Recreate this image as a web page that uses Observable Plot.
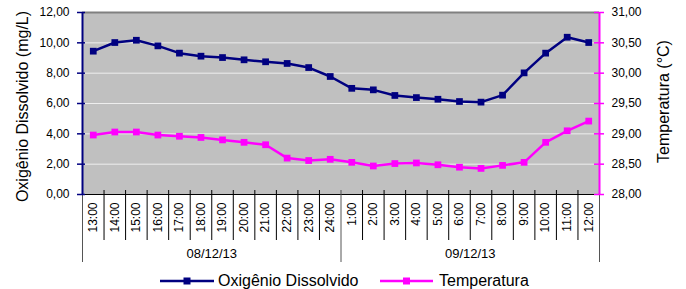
<!DOCTYPE html>
<html><head><meta charset="utf-8">
<script src="https://cdn.jsdelivr.net/npm/d3@7"></script>
<script src="https://cdn.jsdelivr.net/npm/@observablehq/plot@0.6"></script>
<style>
body{margin:0;background:#fff;font-family:"Liberation Sans",Arial,sans-serif;}
#legend{position:relative;height:17px;width:686px;font-size:16px;color:#000;}
.item{position:absolute;top:0;height:17px;display:flex;align-items:center;white-space:nowrap;}
.item svg{display:block;}
</style></head><body><div id="chart"></div><div id="legend"></div>
<script>
const hours = ["13:00","14:00","15:00","16:00","17:00","18:00","19:00","20:00","21:00","22:00","23:00","24:00",
               "1:00","2:00","3:00","4:00","5:00","6:00","7:00","8:00","9:00","10:00","11:00","12:00"];
const dates = ["08/12/13","09/12/13"];
const oxygen = [9.45,10.02,10.17,9.80,9.32,9.12,9.03,8.88,8.75,8.64,8.37,7.78,
                7.00,6.90,6.53,6.39,6.28,6.13,6.09,6.55,8.02,9.32,10.37,10.02];
const temperature = [28.98,29.03,29.03,28.98,28.96,28.94,28.90,28.86,28.82,28.60,28.56,28.58,
                     28.53,28.47,28.51,28.52,28.49,28.45,28.43,28.48,28.53,28.86,29.05,29.21];
const leftTicks = [0,2,4,6,8,10,12];
const rightTicks = [28,28.5,29,29.5,30,30.5,31];
const gridLines = [2,4,6,8,10];
const leftTitle = "Oxigênio Dissolvido (mg/L)";
const rightTitle = "Temperatura (°C)";
const seriesNames = ["Oxigênio Dissolvido","Temperatura"];
const colors = ["#000080","#ff00ff"];

// temperature (28..31) mapped onto the left y domain (0..12)
const tMin = 28, tMax = 31, yMax = 12;
const tToY = t => (t - tMin) * yMax / (tMax - tMin);
const fmt = v => v.toFixed(2).replace(".", ",");

const idx = hours.map((h, i) => i);
const boundaries = d3.range(hours.length + 1).map(i => i - 0.5);
const groupSize = hours.length / dates.length;
const groupBounds = d3.range(dates.length + 1).map(g => g * groupSize - 0.5);
const hourBounds = boundaries.filter(b => !groupBounds.includes(b));
const oxData = idx.map(i => ({i, v: oxygen[i]}));
const tData = idx.map(i => ({i, v: tToY(temperature[i])}));

const chart = Plot.plot({
  width: 686, height: 272,
  marginLeft: 82, marginRight: 87, marginTop: 12, marginBottom: 78,
  style: {fontFamily: "'Liberation Sans', Arial, sans-serif", color: "#000", background: "#fff"},
  x: {domain: [-0.5, hours.length - 0.5], axis: null},
  y: {domain: [0, yMax], axis: null},
  marks: [
    Plot.frame({fill: "#c0c0c0", stroke: null}),
    Plot.ruleY(gridLines, {stroke: "#eeeeee", strokeWidth: 1}),
    Plot.ruleY([yMax], {stroke: "#808080", strokeWidth: 2}),
    // x axis line and category separators
    Plot.ruleY([0], {stroke: "#000", strokeWidth: 1}),
    Plot.ruleX(hourBounds, {y1: 0, y2: 0, insetTop: -4, insetBottom: -46, stroke: "#000", strokeWidth: 1}),
    Plot.ruleX(groupBounds, {y1: 0, y2: 0, insetTop: -4, insetBottom: -68, stroke: "#555", strokeWidth: 1}),
    // left axis
    Plot.ruleX([-0.5], {y1: 0, y2: yMax, stroke: colors[0], strokeWidth: 2}),
    Plot.ruleY(leftTicks, {x1: -0.5, x2: -0.5, insetLeft: -5, insetRight: -3, stroke: colors[0], strokeWidth: 1.5}),
    Plot.text(leftTicks, {x: -0.5, y: d => d, text: fmt, textAnchor: "end", dx: -13, fontSize: 12, fill: "#000"}),
    // right axis
    Plot.ruleX([hours.length - 0.5], {y1: 0, y2: yMax, stroke: colors[1], strokeWidth: 2}),
    Plot.ruleY(rightTicks, {x1: hours.length - 0.5, x2: hours.length - 0.5, y: tToY, insetLeft: -5, insetRight: -5, stroke: colors[1], strokeWidth: 1.5}),
    Plot.text(rightTicks, {x: hours.length - 0.5, y: tToY, text: fmt, textAnchor: "start", dx: 12, fontSize: 12, fill: "#000"}),
    // axis titles
    Plot.text([leftTitle], {frameAnchor: "left", textAnchor: "middle", dx: -60, dy: 3, rotate: -90, fontSize: 16, fill: "#000"}),
    Plot.text([rightTitle], {frameAnchor: "right", textAnchor: "middle", dx: 64, dy: -2, rotate: -90, fontSize: 16, fill: "#000"}),
    // category labels
    Plot.text(hours, {x: (d, i) => i, y: 0, rotate: -90, textAnchor: "end", lineAnchor: "middle", dy: 8, fontSize: 12, fill: "#000"}),
    Plot.text(dates, {x: (d, g) => g * groupSize + (groupSize - 1) / 2, y: 0, dy: 59, fontSize: 13, fill: "#000"}),
    // series
    Plot.line(oxData, {x: "i", y: "v", stroke: colors[0], strokeWidth: 2.5}),
    Plot.dot(oxData, {x: "i", y: "v", symbol: "square", r: 3.8, fill: colors[0], stroke: null}),
    Plot.line(tData, {x: "i", y: "v", stroke: colors[1], strokeWidth: 2.5}),
    Plot.dot(tData, {x: "i", y: "v", symbol: "square", r: 3.8, fill: colors[1], stroke: null})
  ]
});
document.getElementById("chart").appendChild(chart);

// legend
const legend = document.getElementById("legend");
const legendPos = [{left: 160, w: 54, gap: 4}, {left: 380, w: 53, gap: 6}];
seriesNames.forEach((name, k) => {
  const p = legendPos[k];
  const item = document.createElement("div");
  item.className = "item";
  item.style.left = p.left + "px";
  item.innerHTML = `<svg width="${p.w}" height="10"><line x1="0" x2="${p.w}" y1="5" y2="5" stroke="${colors[k]}" stroke-width="2.5"/><rect x="${p.w/2-3.5}" y="1.5" width="7" height="7" fill="${colors[k]}"/></svg><span style="margin-left:${p.gap}px">${name}</span>`;
  legend.appendChild(item);
});
</script></body></html>
